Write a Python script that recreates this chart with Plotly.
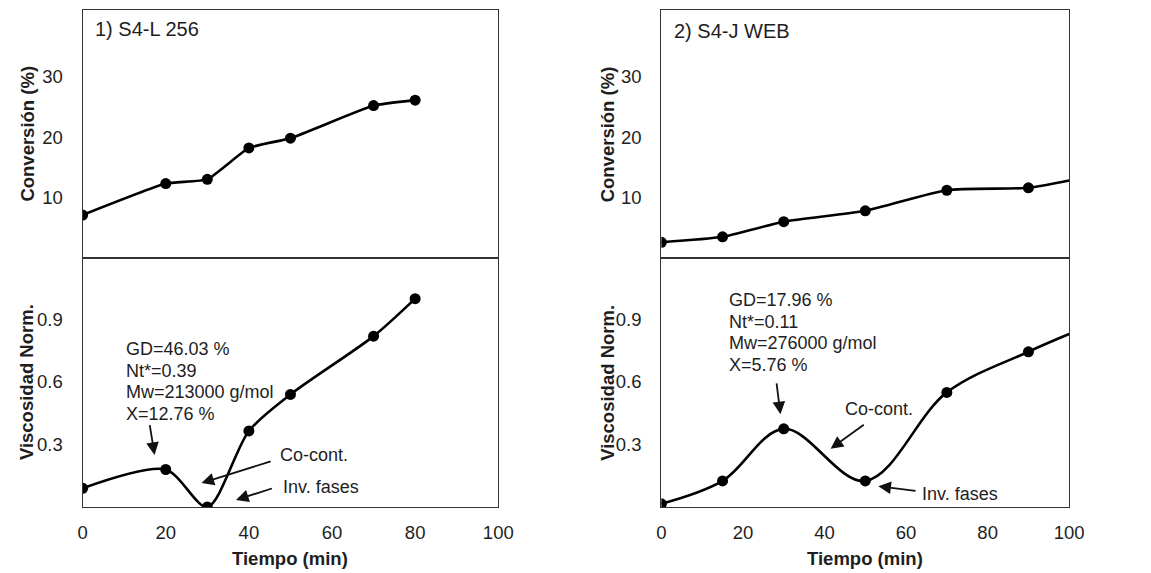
import plotly.graph_objects as go

# --- data -------------------------------------------------------------
# 1) S4-L 256
time_l = [0, 20, 30, 40, 50, 70, 80]
conv_l = [7.1, 12.3, 13.0, 18.2, 19.8, 25.2, 26.1]
visc_l = [0.09, 0.18, 0.0, 0.365, 0.54, 0.82, 1.0]

# 2) S4-J WEB (curves continue to 100 min, last point has no marker)
time_j = [0, 15, 30, 50, 70, 90, 100]
conv_j = [2.6, 3.5, 6.0, 7.8, 11.2, 11.6, 12.8]
visc_j = [0.015, 0.125, 0.375, 0.125, 0.55, 0.745, 0.83]
marker_j = [11, 11, 11, 11, 11, 11, 0]

x_ticks = [0, 20, 40, 60, 80, 100]
conv_ticks = [10, 20, 30]
visc_ticks = [0.3, 0.6, 0.9]
visc_tick_text = ["0.3", "0.6", "0.9"]

props_l = ["GD=46.03 %", "Nt*=0.39", "Mw=213000 g/mol", "X=12.76 %"]
props_j = ["GD=17.96 %", "Nt*=0.11", "Mw=276000 g/mol", "X=5.76 %"]

FONT = "Liberation Sans, Arial, sans-serif"
INK = "#1e1e1e"
W, H = 1151, 573

# panel boxes in pixels -> paper fractions
def px_x(p):
    return p / W

def px_y(p):
    return (H - p) / H

left_dom = [px_x(79), px_x(502)]
right_dom = [px_x(668), px_x(1083)]
top_dom = [px_y(258), px_y(10)]
bot_dom = [px_y(507), px_y(258)]

fig = go.Figure()

line = dict(color="black", width=2.6)

# top-left: conversion
fig.add_trace(go.Scatter(x=time_l, y=conv_l, mode="lines+markers",
                         line=dict(shape="spline", smoothing=0.4, **line),
                         marker=dict(size=11, color="black", opacity=1),
                         xaxis="x", yaxis="y", showlegend=False))
# bottom-left: viscosity
fig.add_trace(go.Scatter(x=time_l, y=visc_l, mode="lines+markers",
                         line=dict(shape="spline", smoothing=0.8, **line),
                         marker=dict(size=11, color="black", opacity=1),
                         xaxis="x3", yaxis="y3", showlegend=False))
# top-right: conversion
fig.add_trace(go.Scatter(x=time_j, y=conv_j, mode="lines+markers",
                         line=dict(shape="spline", smoothing=0.6, **line),
                         marker=dict(size=marker_j, color="black", opacity=1,
                                     line=dict(width=0)),
                         xaxis="x2", yaxis="y2", showlegend=False))
# bottom-right: viscosity
fig.add_trace(go.Scatter(x=time_j, y=visc_j, mode="lines+markers",
                         line=dict(shape="spline", smoothing=1.0, **line),
                         marker=dict(size=marker_j, color="black", opacity=1,
                                     line=dict(width=0)),
                         xaxis="x4", yaxis="y4", showlegend=False))

tickfont = dict(family=FONT, size=18.5, color=INK)
box = dict(showline=True, linecolor="#333", linewidth=1.3, mirror=True,
           showgrid=False, zeroline=False, ticks="")

def xaxis(dom, anchor, labels):
    return dict(domain=dom, anchor=anchor, range=[0, 100], tickvals=x_ticks,
                showticklabels=labels, tickfont=tickfont, ticklabelstandoff=9, **box)

def yaxis_conv(anchor):
    return dict(domain=top_dom, anchor=anchor, range=[0, 41], tickvals=conv_ticks,
                tickfont=tickfont, ticklabelstandoff=15, **box)

def yaxis_visc(anchor):
    return dict(domain=bot_dom, anchor=anchor, range=[0, 1.195], tickvals=visc_ticks,
                ticktext=visc_tick_text, tickfont=tickfont, ticklabelstandoff=15, **box)

fig.update_layout(
    width=W, height=H,
    margin=dict(l=0, r=0, t=0, b=0),
    paper_bgcolor="white", plot_bgcolor="white",
    font=dict(family=FONT, size=18, color=INK),
    xaxis=xaxis(left_dom, "y", False),
    xaxis2=xaxis(right_dom, "y2", False),
    xaxis3=xaxis(left_dom, "y3", True),
    xaxis4=xaxis(right_dom, "y4", True),
    yaxis=yaxis_conv("x"),
    yaxis2=yaxis_conv("x2"),
    yaxis3=yaxis_visc("x3"),
    yaxis4=yaxis_visc("x4"),
)

ann = []
txt = dict(family=FONT, size=18, color=INK)
ttl = dict(family=FONT, size=18.5, color=INK)

# axis titles
for xc in (px_x(22), px_x(613)):
    ann.append(dict(text="<b>Conversión (%)</b>", xref="paper", yref="paper",
                    x=xc, y=(top_dom[0] + top_dom[1]) / 2, textangle=-90,
                    showarrow=False, font=ttl, xanchor="center", yanchor="middle"))
    ann.append(dict(text="<b>Viscosidad Norm.</b>", xref="paper", yref="paper",
                    x=xc, y=(bot_dom[0] + bot_dom[1]) / 2, textangle=-90,
                    showarrow=False, font=ttl, xanchor="center", yanchor="middle"))
for dom in (left_dom, right_dom):
    ann.append(dict(text="<b>Tiempo (min)</b>", xref="paper", yref="paper",
                    x=(dom[0] + dom[1]) / 2, y=px_y(558), showarrow=False,
                    font=ttl, xanchor="center", yanchor="middle"))

# panel labels
ann.append(dict(text="1) S4-L 256", xref="x", yref="y", x=2.6, y=37.8,
                showarrow=False, font=dict(family=FONT, size=20, color=INK),
                xanchor="left", yanchor="middle"))
ann.append(dict(text="2) S4-J WEB", xref="x2", yref="y2", x=2.6, y=37.6,
                showarrow=False, font=dict(family=FONT, size=20, color=INK),
                xanchor="left", yanchor="middle"))

# property blocks, one line each with a tight line pitch
pitch = 0.104
for i, t in enumerate(props_l):
    ann.append(dict(text=t, xref="x3", yref="y3", x=10.0, y=0.758 - i * pitch,
                    showarrow=False, font=txt, xanchor="left", yanchor="middle"))
for i, t in enumerate(props_j):
    ann.append(dict(text=t, xref="x4", yref="y4", x=16.0, y=0.994 - i * pitch,
                    showarrow=False, font=txt, xanchor="left", yanchor="middle"))

# labels
ann.append(dict(text="Co-cont.", xref="x3", yref="y3", x=47.0, y=0.25,
                showarrow=False, font=txt, xanchor="left", yanchor="middle"))
ann.append(dict(text="Inv. fases", xref="x3", yref="y3", x=47.7, y=0.096,
                showarrow=False, font=txt, xanchor="left", yanchor="middle"))
ann.append(dict(text="Co-cont.", xref="x4", yref="y4", x=44.5, y=0.47,
                showarrow=False, font=txt, xanchor="left", yanchor="middle"))
ann.append(dict(text="Inv. fases", xref="x4", yref="y4", x=63.5, y=0.062,
                showarrow=False, font=txt, xanchor="left", yanchor="middle"))

# arrows: (axis suffix, tail x, tail y, head x, head y)
arrows = [
    ("3", 16.1, 0.40, 17.3, 0.25),
    ("3", 45.6, 0.221, 28.6, 0.115),
    ("3", 45.9, 0.091, 36.9, 0.034),
    ("4", 28.2, 0.60, 29.2, 0.445),
    ("4", 50.0, 0.40, 41.5, 0.28),
    ("4", 62.7, 0.077, 53.2, 0.10),
]
for s, tx, ty, hx, hy in arrows:
    ann.append(dict(text="", xref="x" + s, yref="y" + s, x=hx, y=hy,
                    axref="x" + s, ayref="y" + s, ax=tx, ay=ty,
                    showarrow=True, arrowhead=2, arrowsize=1.4, arrowwidth=1.8,
                    arrowcolor="#111", standoff=0, startstandoff=0))

fig.update_layout(annotations=ann)

fig.write_html("out.html")
